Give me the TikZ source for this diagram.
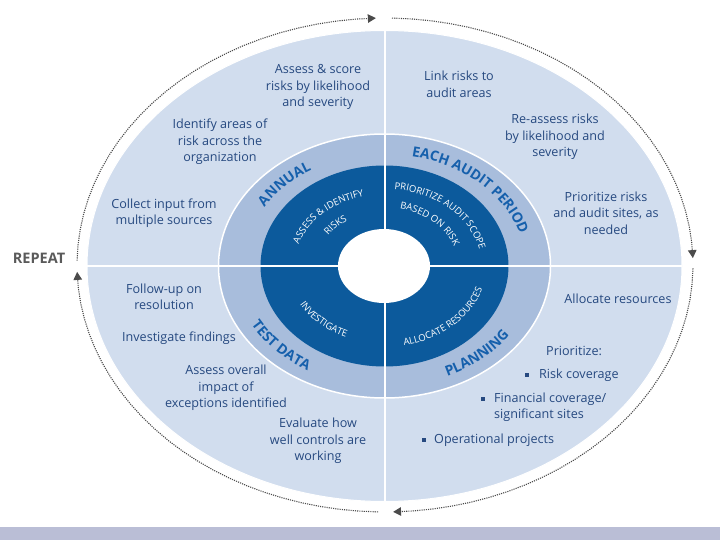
\documentclass[tikz,border=0pt]{standalone}
\usepackage{fontspec}
\setmainfont{Open Sans}
\usetikzlibrary{decorations.text,arrows.meta}
\definecolor{outerblue}{RGB}{209,221,238}
\definecolor{midblue}{RGB}{168,189,220}
\definecolor{darkblue}{RGB}{12,90,156}
\definecolor{notecol}{RGB}{38,73,128}
\definecolor{ringcol}{RGB}{22,96,172}
\definecolor{arrowgray}{RGB}{75,75,75}
\definecolor{repeatgray}{RGB}{90,90,90}
\definecolor{barcol}{RGB}{186,190,214}
\newcommand\ringfont{\fontsize{14}{14}\selectfont\bfseries}
\newcommand\darkfont{\fontsize{9.5}{9.5}\selectfont}
\begin{document}
\begin{tikzpicture}[x=1pt,y=-1pt,
  note/.style={font=\fontsize{12.6}{16.5}\selectfont, text=notecol, align=center, inner sep=0pt},
  notel/.style={note, align=left, anchor=west},
  bulletsq/.style={fill=notecol, minimum size=4pt, inner sep=0pt},
  dotarc/.style={draw=arrowgray, line width=1.1pt, dash pattern=on 1.1pt off 1.1pt, -{Triangle[length=8pt,width=8.5pt]}},
  divider/.style={draw=white, line width=1.4pt},
  ringlabel/.style={decorate, decoration={text along path, text align=center, text color=ringcol, text={|\ringfont|#1}}},
  darklabel/.style={decorate, decoration={text along path, text align=center, text color=white, text={|\darkfont|#1}}},
]
\useasboundingbox (0,0) rectangle (720,540);
\fill[white] (0,0) rectangle (720,540);
% bottom bar
\fill[barcol] (0,527) rectangle (720,540);
% concentric ellipses
\fill[outerblue] (384.5,266) ellipse [x radius=297.5, y radius=235.5];
\draw[white, line width=1pt] (384.5,266) ellipse [x radius=297.5, y radius=235.5];
\filldraw[fill=midblue, draw=white, line width=1.5pt] (384.5,266) ellipse [x radius=166, y radius=132];
\fill[darkblue] (384.5,266) ellipse [x radius=124, y radius=100.5];
\fill[white] (384,266) ellipse [x radius=46, y radius=37];
% dividers
\coordinate (vt) at (385,30.5);
\coordinate (vb) at (385,501.5);
\coordinate (hl) at (87,266);
\coordinate (hr) at (682,266);
\draw[divider] (vt) -- (vb);
\draw[divider] (hl) -- (hr);
% dotted cycle arrows
\draw[dotarc] plot[domain=181:268.3, samples=25] ({385+308*cos(\x)},{265+247*sin(\x)});
\draw[dotarc] plot[domain=271.3:358.4, samples=25] ({385+308*cos(\x)},{265+247*sin(\x)});
\draw[dotarc] plot[domain=0.8:88.5, samples=25] ({385+308*cos(\x)},{265+247*sin(\x)});
\draw[dotarc] plot[domain=91.3:178.4, samples=25] ({385+308*cos(\x)},{265+247*sin(\x)});
% ring labels
\path[ringlabel=ANNUAL] plot[domain=-177:-97, samples=60] ({384.5+1.26*112*cos(\x)},{266+112*sin(\x)});
\path[ringlabel=EACH AUDIT PERIOD] plot[domain=-104.5:15.5, samples=80] ({384.5+1.26*112*cos(\x)},{266+112*sin(\x)});
\path[ringlabel=TEST DATA] plot[domain=-189:-89, samples=60] ({384.5+1.26*121*cos(-\x)},{266+121*sin(-\x)});
\path[ringlabel=PLANNING] plot[domain=-97:3, samples=60] ({384.5+1.26*121*cos(-\x)},{266+121*sin(-\x)});
% dark labels
\path[darklabel={ASSESS {\&} IDENTIFY}] plot[domain=-196:-76, samples=80] ({384.5+1.26*71.5*cos(\x)},{266+71.5*sin(\x)});
\path[darklabel=RISKS] plot[domain=-177:-97, samples=60] ({384.5+1.26*54*cos(\x)},{266+54*sin(\x)});
\path[darklabel=PRIORITIZE AUDIT SCOPE] plot[domain=-110:20, samples=80] ({384.5+1.26*77*cos(\x)},{266+77*sin(\x)});
\path[darklabel=BASED ON RISK] plot[domain=-105:14, samples=80] ({384.5+1.26*58.5*cos(\x)},{266+58.5*sin(\x)});
\path[darklabel=INVESTIGATE] plot[domain=-196:-76, samples=80] ({384.5+1.26*77.5*cos(-\x)},{266+77.5*sin(-\x)});
\path[darklabel=ALLOCATE RESOURCES] plot[domain=-104.5:15.5, samples=80] ({384.5+1.26*81*cos(-\x)},{266+81*sin(-\x)});
% outer notes
\node[note] (n1) at (318,87) {Assess \& score\\risks by likelihood\\and severity};
\node[note] (n2) at (220,142) {Identify areas of\\risk across the\\organization};
\node[note] (n3) at (164,213) {Collect input from\\multiple sources};
\node[note] (n4) at (459,84.5) {Link risks to\\audit areas};
\node[note] (n5) at (555,137) {Re-assess risks\\by likelihood and\\severity};
\node[note] (n6) at (606,213) {Prioritize risks\\and audit sites, as\\needed};
\node[note] (n7) at (164,297) {Follow-up on\\resolution};
\node[note] (n8) at (179,338) {Investigate findings};
\node[note] (n9) at (226,388) {Assess overall\\impact of\\exceptions identified};
\node[note] (n10) at (318,441) {Evaluate how\\well controls are\\working};
\node[note] (n11) at (618,299) {Allocate resources};
\node[notel] (n12) at (546,351) {Prioritize:};
\node[bulletsq] (b1) at (527,375) {};
\node[notel] (n13) at (539,375) {Risk coverage};
\node[bulletsq] (b2) at (483,399) {};
\node[notel] (n14) at (494,407) {Financial coverage/\\significant sites};
\node[bulletsq] (b3) at (424,440) {};
\node[notel] (n15) at (434,440) {Operational projects};
% repeat
\node[font=\fontsize{14.5}{14.5}\selectfont\bfseries, text=repeatgray, inner sep=0pt] (rep) at (39,258) {REPEAT};
\end{tikzpicture}
\end{document}
